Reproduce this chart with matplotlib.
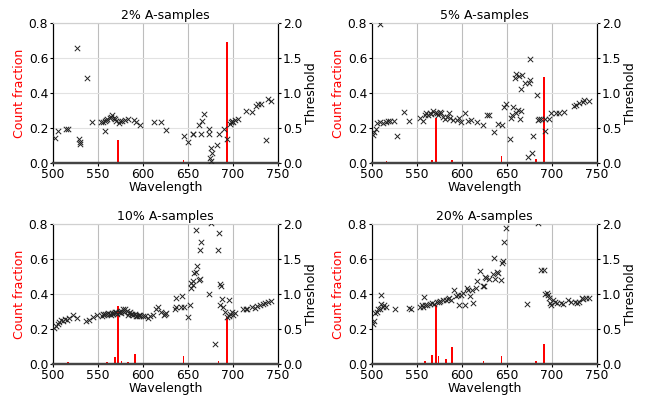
import matplotlib
matplotlib.use("Agg")
import matplotlib.pyplot as plt

titles = ["2% A-samples", "5% A-samples", "10% A-samples", "20% A-samples"]

# ---- Panel 1 (2%) ----
p1_wl = [502, 505, 514, 517, 527, 529, 530, 530, 538, 543, 553, 555, 558, 559, 560, 558,
         563, 564, 566, 568, 569, 570, 573, 574, 577, 580, 583, 590, 592, 597, 612, 620, 625,
         646, 650, 655, 656, 662, 666, 668, 664, 673, 673, 676, 677, 674, 676, 682, 684, 690,
         693, 697, 698, 699, 700, 702, 706, 714, 721, 725, 728, 731, 739, 742, 737]
p1_thr = [0.36, 0.46, 0.49, 0.48, 1.65, 0.34, 0.30, 0.27, 1.22, 0.59, 0.59, 0.59, 0.60, 0.61, 0.63, 0.46,
          0.64, 0.66, 0.69, 0.64, 0.63, 0.60, 0.57, 0.60, 0.60, 0.61, 0.63, 0.61, 0.58, 0.55, 0.59, 0.58, 0.47,
          0.39, 0.30, 0.41, 0.42, 0.54, 0.60, 0.70, 0.42, 0.49, 0.42, 0.21, 0.15, 0.07, 0.03, 0.26, 0.42, 0.48,
          0.35, 0.56, 0.59, 0.60, 0.59, 0.61, 0.63, 0.74, 0.73, 0.82, 0.85, 0.85, 0.91, 0.88, 0.33]
p1_bar_wl = [517, 560, 569, 572, 645, 673, 684, 693]
p1_bar_frac = [0.004, 0.003, 0.003, 0.13, 0.017, 0.004, 0.004, 0.69]

# ---- Panel 2 (5%) ----
p2_wl = [501, 502, 504, 506, 509, 512, 515, 518, 520, 524, 509, 528, 536, 541,
         553, 557, 559, 560, 562, 564, 566, 568, 570, 572, 573, 575, 577, 579, 581, 583,
         586, 587, 590, 594, 597, 599, 603, 607, 610, 617, 623, 628, 630, 636, 640, 644,
         647, 649, 653, 654, 656, 657, 660, 662, 665, 659, 660, 663, 667, 664, 670, 675,
         674, 665, 676, 683, 679, 673, 678, 684, 686, 688, 692, 697, 692, 699, 704, 708,
         713, 724, 727, 730, 734, 736, 741]
p2_thr = [0.40, 0.45, 0.49, 0.57, 0.59, 0.57, 0.59, 0.60, 0.60, 0.60, 1.99, 0.39, 0.73, 0.60,
          0.65, 0.60, 0.69, 0.71, 0.69, 0.72, 0.70, 0.74, 0.72, 0.71, 0.68, 0.73, 0.71, 0.66, 0.63, 0.66,
          0.71, 0.64, 0.61, 0.61, 0.64, 0.59, 0.72, 0.60, 0.61, 0.59, 0.55, 0.69, 0.69, 0.44, 0.56, 0.54,
          0.80, 0.85, 0.34, 0.65, 0.69, 0.80, 0.72, 0.76, 0.75, 1.22, 1.27, 1.24, 1.26, 0.63, 1.14, 1.19,
          1.14, 1.06, 1.48, 0.97, 0.39, 0.09, 0.15, 0.61, 0.63, 0.63, 0.63, 0.63, 0.46, 0.72, 0.71, 0.71,
          0.73, 0.81, 0.83, 0.86, 0.87, 0.90, 0.89]
p2_bar_wl = [516, 553, 559, 567, 571, 574, 589, 644, 670, 682, 691, 727]
p2_bar_frac = [0.01, 0.004, 0.004, 0.015, 0.255, 0.005, 0.02, 0.04, 0.008, 0.023, 0.49, 0.004]

# ---- Panel 3 (10%) ----
p3_wl = [501, 503, 505, 507, 509, 511, 513, 516, 518, 522, 527, 537, 540, 544, 549,
         554, 557, 560, 563, 565, 568, 570, 573, 574, 576, 578, 580, 582, 584, 586, 587,
         589, 591, 593, 595, 597, 600, 602, 605, 608, 611, 614, 617, 620, 623, 624,
         555, 558, 561, 564, 567, 569, 571, 575, 579, 583, 588, 592, 596,
         626, 635, 637, 642, 645, 637, 643, 650, 652, 653, 655, 653, 656, 657, 659, 660, 662,
         663, 659, 664, 663, 673, 675, 680, 684, 683, 686, 687, 688, 695, 686, 689, 691, 693,
         695, 697, 699, 700, 702, 711, 714, 716, 721, 724, 727, 730, 733, 736, 739, 742]
p3_thr = [0.52, 0.54, 0.57, 0.60, 0.63, 0.62, 0.65, 0.63, 0.66, 0.70, 0.66, 0.61, 0.63, 0.67, 0.70,
          0.69, 0.70, 0.71, 0.72, 0.73, 0.73, 0.74, 0.74, 0.75, 0.76, 0.78, 0.79, 0.76, 0.73, 0.74, 0.72,
          0.70, 0.71, 0.69, 0.69, 0.70, 0.68, 0.69, 0.66, 0.68, 0.70, 0.79, 0.82, 0.75, 0.70, 0.71,
          0.72, 0.71, 0.73, 0.70, 0.71, 0.75, 0.72, 0.73, 0.74, 0.70, 0.72, 0.68, 0.70,
          0.73, 0.79, 0.81, 0.81, 0.82, 0.94, 0.97, 0.67, 0.84, 1.09, 1.13, 1.16, 1.19, 1.30, 1.31, 1.40, 1.20,
          1.21, 1.92, 1.74, 1.63, 1.00, 2.02, 0.29, 1.87, 1.63, 1.14, 1.11, 0.93, 0.92, 0.84, 0.81, 0.74, 0.67,
          0.69, 0.71, 0.74, 0.70, 0.73, 0.79, 0.79, 0.79, 0.82, 0.80, 0.83, 0.85, 0.86, 0.87, 0.89, 0.90]
p3_bar_wl = [517, 554, 560, 564, 569, 572, 576, 583, 591, 626, 641, 645, 672, 684, 693, 729]
p3_bar_frac = [0.01, 0.005, 0.01, 0.005, 0.04, 0.33, 0.015, 0.01, 0.057, 0.004, 0.004, 0.047, 0.004, 0.02, 0.27, 0.004]

# ---- Panel 4 (20%) ----
p4_wl = [501, 502, 503, 505, 507, 509, 510, 512, 513, 515, 510, 525, 541, 543,
         553, 555, 558, 557, 559, 561, 564, 567, 569, 572, 574, 576, 579, 582, 584, 586,
         588, 591, 593, 596, 597, 599, 601, 603, 605, 607, 609, 611, 612, 615, 617, 620,
         624, 627, 623, 626, 630, 634, 637, 639, 640, 643, 636, 644, 646, 647, 649, 684,
         672, 688, 691, 692, 694, 696, 697, 698, 699, 701, 703, 705, 710, 712, 718, 721,
         725, 728, 730, 733, 734, 738, 741]
p4_thr = [0.57, 0.61, 0.73, 0.75, 0.78, 0.79, 0.98, 0.81, 0.84, 0.82, 0.86, 0.78, 0.80, 0.78,
          0.82, 0.84, 0.96, 0.81, 0.85, 0.84, 0.86, 0.87, 0.86, 0.89, 0.89, 0.90, 0.92, 0.92, 0.93, 0.94,
          0.92, 1.06, 0.97, 0.99, 0.84, 0.98, 1.01, 0.85, 1.08, 1.06, 0.97, 1.06, 0.87, 1.09, 1.18, 1.33,
          1.12, 1.23, 1.11, 1.24, 1.22, 1.29, 1.21, 1.32, 1.30, 1.20, 1.51, 1.44, 1.47, 1.75, 1.95, 2.02,
          0.86, 1.35, 1.34, 1.00, 1.01, 0.98, 0.94, 0.87, 0.84, 0.92, 0.89, 0.87, 0.87, 0.86, 0.92, 0.89,
          0.88, 0.87, 0.88, 0.94, 0.93, 0.95, 0.95]
p4_bar_wl = [516, 553, 559, 563, 567, 571, 574, 582, 589, 596, 624, 640, 644, 654, 682, 691, 727]
p4_bar_frac = [0.004, 0.004, 0.015, 0.005, 0.05, 0.34, 0.044, 0.03, 0.10, 0.004, 0.018, 0.004, 0.044, 0.008, 0.015, 0.114, 0.004]

scatter_wl = [p1_wl, p2_wl, p3_wl, p4_wl]
scatter_thr = [p1_thr, p2_thr, p3_thr, p4_thr]
bar_wl = [p1_bar_wl, p2_bar_wl, p3_bar_wl, p4_bar_wl]
bar_frac = [p1_bar_frac, p2_bar_frac, p3_bar_frac, p4_bar_frac]

W, H = 645, 398
fig = plt.figure(figsize=(W / 100, H / 100), dpi=100)

boxes = [(53, 23), (372, 23), (53, 224), (372, 224)]
aw, ah = 225, 140

FS = 8.8
for i in range(4):
    x0, y0 = boxes[i]
    ax = fig.add_axes([x0 / W, 1 - (y0 + ah) / H, aw / W, ah / H])
    ax.bar(bar_wl[i], bar_frac[i], width=1.8, color="#ff0000", zorder=2)
    ax.set_xlim(500, 750)
    ax.set_ylim(0, 0.8)
    ax.set_xticks([500, 550, 600, 650, 700, 750])
    ax.set_yticks([0.0, 0.2, 0.4, 0.6, 0.8])
    ax.set_yticklabels(["0.0", "0.2", "0.4", "0.6", "0.8"])
    ax.grid(True, axis="x", color="#bdbdbd", linewidth=0.8)
    ax.grid(True, axis="y", color="#e2e2e2", linewidth=0.8)
    ax.set_axisbelow(True)
    ax.tick_params(labelsize=FS, length=2, pad=1.5)
    ax.set_xlabel("Wavelength", fontsize=9, labelpad=0)
    ax.set_ylabel("Count fraction", fontsize=9, color="#ff0000", labelpad=2)
    ax.set_title(titles[i], fontsize=9, pad=3)
    ax.spines["top"].set_color("#d0d0d0")
    ax.spines["bottom"].set_color("#444444")
    ax.spines["bottom"].set_linewidth(1.6)

    ax2 = ax.twinx()
    ax2.scatter(scatter_wl[i], scatter_thr[i], marker="x", s=15, color="#222222",
                linewidths=0.7, zorder=3)
    ax2.set_ylim(0, 2.0)
    ax2.set_yticks([0.0, 0.5, 1.0, 1.5, 2.0])
    ax2.set_yticklabels(["0.0", "0.5", "1.0", "1.5", "2.0"])
    ax2.tick_params(labelsize=FS, length=2, pad=1.5)
    ax2.set_ylabel("Threshold", fontsize=9, labelpad=2)
    ax2.spines["top"].set_color("#d0d0d0")
    ax2.spines["bottom"].set_color("#444444")
    ax2.spines["bottom"].set_linewidth(1.6)

fig.savefig("out.png", dpi=100)
